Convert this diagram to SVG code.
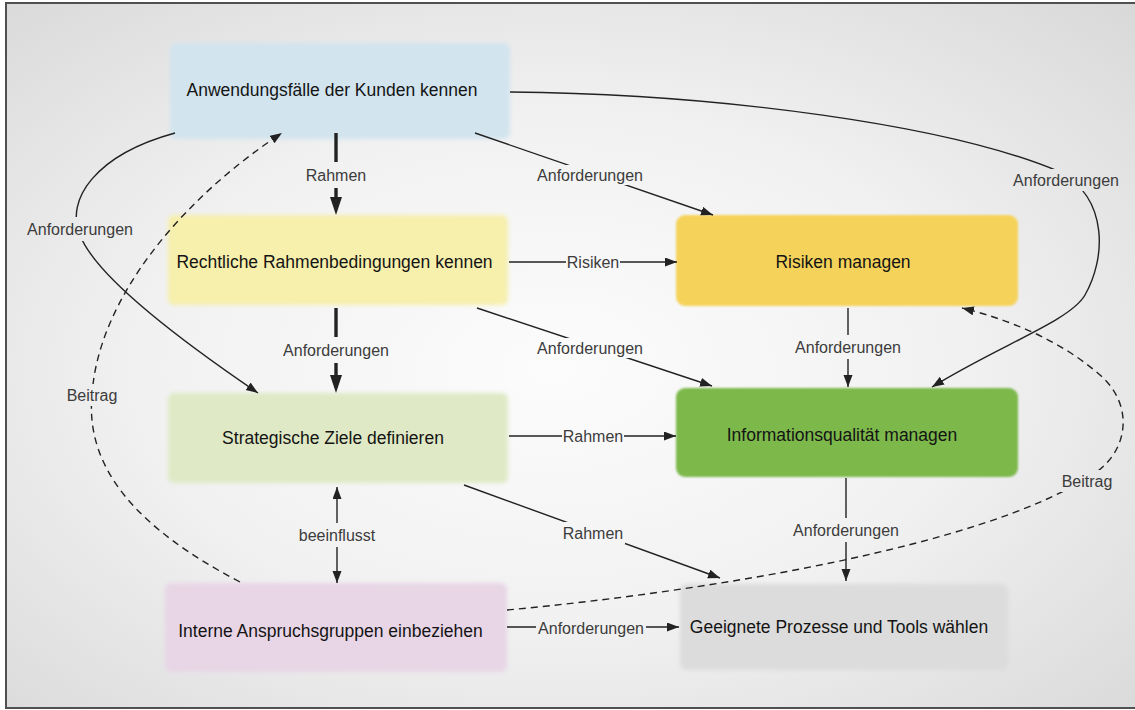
<svg xmlns="http://www.w3.org/2000/svg" width="1135" height="710" viewBox="0 0 1135 710">
<style>
.nt{font-family:"Liberation Sans",Arial,sans-serif;font-size:17.5px;fill:#141414;text-anchor:middle;dominant-baseline:central}
.lb{font-family:"Liberation Sans",Arial,sans-serif;font-size:16px;fill:#3c3c3c;text-anchor:middle;dominant-baseline:central}
.c{fill:none;stroke:#222;stroke-width:1.4}
.k{stroke-width:3.4}
.d{stroke-dasharray:7 5}
</style>
<defs>
<radialGradient id="bg" cx="0.48" cy="0.52" r="0.72">
<stop offset="0" stop-color="#fcfcfc"/>
<stop offset="0.5" stop-color="#f1f1f1"/>
<stop offset="1" stop-color="#d9d9d9"/>
</radialGradient>
<filter id="soft" x="-5%" y="-10%" width="110%" height="120%"><feGaussianBlur stdDeviation="2.2"/></filter>
<filter id="soft2" x="-5%" y="-10%" width="110%" height="120%"><feGaussianBlur stdDeviation="0.8"/></filter>
<marker id="a" markerUnits="userSpaceOnUse" markerWidth="14" markerHeight="10" refX="12" refY="4.5" orient="auto-start-reverse"><path d="M0,0 L12,4.5 L0,9 z" fill="#222"/></marker>
<marker id="at" markerUnits="userSpaceOnUse" markerWidth="20" markerHeight="14" refX="10" refY="7" orient="auto"><path d="M0,1 L18,7 L0,13 z" fill="#222"/></marker>
<mask id="lbl" maskUnits="userSpaceOnUse" x="0" y="0" width="1135" height="710">
<rect width="1135" height="710" fill="#fff"/>
<g fill="#000">
<rect x="303" y="162" width="66" height="26"/>
<rect x="280" y="337" width="112" height="26"/>
<rect x="535" y="165" width="110" height="20"/>
<rect x="566" y="252" width="54" height="20"/>
<rect x="535" y="338" width="110" height="20"/>
<rect x="793" y="335" width="110" height="24"/>
<rect x="1011" y="169" width="110" height="22"/>
<rect x="25" y="217" width="110" height="24"/>
<rect x="562" y="426" width="62" height="20"/>
<rect x="561" y="522" width="64" height="22"/>
<rect x="791" y="518" width="110" height="24"/>
<rect x="297" y="523" width="80" height="24"/>
<rect x="536" y="618" width="110" height="20"/>
<rect x="64" y="384" width="56" height="22"/>
<rect x="1059" y="470" width="56" height="22"/>
</g>
</mask>
</defs>
<rect width="1135" height="710" fill="#ffffff"/>
<rect x="6" y="3" width="1140" height="705" fill="url(#bg)" stroke="#505050" stroke-width="2"/>

<g id="node-anwendungsfaelle">
<rect x="170" y="43" width="340" height="96" rx="6" fill="#d2e4ee" filter="url(#soft)"/>
<text class="nt" x="332" y="90">Anwendungsfälle der Kunden kennen</text>
</g>
<g id="node-rechtliche">
<rect x="168" y="215" width="340" height="90" rx="6" fill="#f7efac" filter="url(#soft)"/>
<text class="nt" x="334.5" y="262">Rechtliche Rahmenbedingungen kennen</text>
</g>
<g id="node-strategische">
<rect x="168" y="393" width="340" height="90" rx="6" fill="#dfe9c5" filter="url(#soft)"/>
<text class="nt" x="333" y="438">Strategische Ziele definieren</text>
</g>
<g id="node-interne">
<rect x="165" y="583" width="342" height="89" rx="6" fill="#e8d6e7" filter="url(#soft)"/>
<text class="nt" x="330.5" y="631">Interne Anspruchsgruppen einbeziehen</text>
</g>
<g id="node-risiken">
<rect x="676" y="215" width="342" height="91" rx="9" fill="#f5d35a" filter="url(#soft2)"/>
<text class="nt" x="843" y="262">Risiken managen</text>
</g>
<g id="node-informationsqualitaet">
<rect x="676" y="388" width="342" height="89" rx="9" fill="#7db84c" filter="url(#soft2)"/>
<text class="nt" x="842" y="435">Informationsqualität managen</text>
</g>
<g id="node-prozesse">
<rect x="680" y="584" width="328" height="86" rx="6" fill="#dcdcdc" filter="url(#soft)"/>
<text class="nt" x="839" y="627">Geeignete Prozesse und Tools wählen</text>
</g>

<g id="connectors" mask="url(#lbl)">
<path class="c k" d="M336,133 L336,207" marker-end="url(#at)"/>
<path class="c k" d="M336,308 L336,385" marker-end="url(#at)"/>
<path class="c" d="M475,133 L713,215" marker-end="url(#a)"/>
<path class="c" d="M509,262 L677,262" marker-end="url(#a)"/>
<path class="c" d="M477,308 L712,386" marker-end="url(#a)"/>
<path class="c" d="M848,308 L848,387" marker-end="url(#a)"/>
<path class="c" d="M510,92 C720,94 950,125 1060,172 C1110,200 1105,260 1085,295 C1070,321 1000,345 932,387" marker-end="url(#a)"/>
<path class="c" d="M175,133 C95,155 65,200 80,235 C95,275 180,340 258,393" marker-end="url(#a)"/>
<path class="c" d="M509,436 L676,436" marker-end="url(#a)"/>
<path class="c" d="M464,485 L720,578" marker-end="url(#a)"/>
<path class="c" d="M846,478 L846,581" marker-end="url(#a)"/>
<path class="c" d="M337,487 L337,583" marker-start="url(#a)" marker-end="url(#a)"/>
<path class="c" d="M507,627 L679,627" marker-end="url(#a)"/>
<path class="c d" d="M240,582 C140,530 85,470 92,395 C98,300 180,200 282,133" marker-end="url(#a)"/>
<path class="c d" d="M507,610 C720,590 980,545 1087,478 C1130,455 1135,405 1100,375 C1060,340 1010,320 962,308" marker-end="url(#a)"/>
</g>

<g id="labels">
<text class="lb" x="336" y="175">Rahmen</text>
<text class="lb" x="336" y="350">Anforderungen</text>
<text class="lb" x="590" y="175">Anforderungen</text>
<text class="lb" x="593" y="262">Risiken</text>
<text class="lb" x="590" y="348">Anforderungen</text>
<text class="lb" x="848" y="347">Anforderungen</text>
<text class="lb" x="1066" y="180">Anforderungen</text>
<text class="lb" x="80" y="229">Anforderungen</text>
<text class="lb" x="593" y="436">Rahmen</text>
<text class="lb" x="593" y="533">Rahmen</text>
<text class="lb" x="846" y="530">Anforderungen</text>
<text class="lb" x="337" y="535">beeinflusst</text>
<text class="lb" x="591" y="628">Anforderungen</text>
<text class="lb" x="92" y="395">Beitrag</text>
<text class="lb" x="1087" y="481">Beitrag</text>
</g>
</svg>
